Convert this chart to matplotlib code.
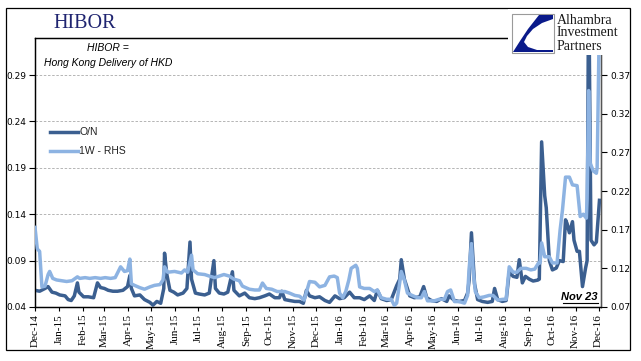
import matplotlib
matplotlib.use("Agg")
import matplotlib.pyplot as plt
import pandas as pd
from matplotlib.patches import Rectangle, Polygon
from matplotlib.lines import Line2D

# ---------------- data ----------------
on_dates = ["2014-12-01", "2014-12-07", "2014-12-14", "2014-12-18", "2014-12-23", "2014-12-28",
            "2015-01-02", "2015-01-09", "2015-01-13", "2015-01-17", "2015-01-21", "2015-01-25", "2015-01-27",
            "2015-02-02", "2015-02-08", "2015-02-15", "2015-02-20", "2015-02-24",
            "2015-03-01", "2015-03-06", "2015-03-12", "2015-03-18", "2015-03-25", "2015-03-31",
            "2015-04-03", "2015-04-05", "2015-04-09", "2015-04-16", "2015-04-22", "2015-04-29",
            "2015-05-03", "2015-05-08", "2015-05-13", "2015-05-17", "2015-05-18", "2015-05-21", "2015-05-25", "2015-05-30",
            "2015-06-04", "2015-06-11", "2015-06-16", "2015-06-20", "2015-06-22", "2015-06-27",
            "2015-07-02", "2015-07-09", "2015-07-15", "2015-07-21", "2015-07-23", "2015-07-28",
            "2015-08-03", "2015-08-08", "2015-08-14", "2015-08-16", "2015-08-23", "2015-08-30",
            "2015-09-05", "2015-09-12", "2015-09-18", "2015-09-25",
            "2015-10-01", "2015-10-08", "2015-10-14", "2015-10-17", "2015-10-21", "2015-10-27",
            "2015-11-03", "2015-11-09", "2015-11-14", "2015-11-18", "2015-11-22", "2015-11-29",
            "2015-12-05", "2015-12-12", "2015-12-18", "2015-12-25", "2015-12-31",
            "2016-01-06", "2016-01-13", "2016-01-19", "2016-01-26",
            "2016-02-01", "2016-02-08", "2016-02-14", "2016-02-18", "2016-02-23",
            "2016-03-01", "2016-03-07", "2016-03-14", "2016-03-18", "2016-03-20", "2016-03-24", "2016-03-31",
            "2016-04-06", "2016-04-13", "2016-04-18", "2016-04-22", "2016-04-28",
            "2016-05-05", "2016-05-11", "2016-05-18", "2016-05-21", "2016-05-28",
            "2016-06-03", "2016-06-10", "2016-06-14", "2016-06-16", "2016-06-19", "2016-06-23", "2016-06-27",
            "2016-07-03", "2016-07-10", "2016-07-16", "2016-07-19", "2016-07-23", "2016-07-29",
            "2016-08-03", "2016-08-07", "2016-08-12", "2016-08-17", "2016-08-20", "2016-08-24", "2016-08-28",
            "2016-09-02", "2016-09-07", "2016-09-13", "2016-09-15", "2016-09-18", "2016-09-22", "2016-09-24", "2016-09-28",
            "2016-10-02", "2016-10-07", "2016-10-11", "2016-10-16", "2016-10-19", "2016-10-21", "2016-10-24", "2016-10-28", "2016-10-30",
            "2016-11-03", "2016-11-06", "2016-11-10", "2016-11-14", "2016-11-16", "2016-11-18",
            "2016-11-21", "2016-11-25", "2016-11-28", "2016-12-02"]
on_vals = [0.058, 0.057, 0.060, 0.062, 0.056, 0.055,
           0.053, 0.052, 0.048, 0.047, 0.052, 0.066, 0.056,
           0.051, 0.051, 0.050, 0.066, 0.061,
           0.060, 0.058, 0.057, 0.057, 0.058, 0.062,
           0.074, 0.060, 0.052, 0.053, 0.048, 0.045,
           0.042, 0.046, 0.044, 0.060, 0.098, 0.075, 0.058, 0.056,
           0.053, 0.055, 0.060, 0.110, 0.070, 0.055,
           0.054, 0.053, 0.055, 0.090, 0.060, 0.055,
           0.054, 0.056, 0.078, 0.058, 0.052, 0.055,
           0.050, 0.049, 0.050, 0.052,
           0.054, 0.050, 0.050, 0.057, 0.048, 0.047,
           0.046, 0.046, 0.044, 0.058, 0.052, 0.050,
           0.051, 0.047, 0.045, 0.052, 0.049,
           0.050, 0.056, 0.050, 0.050,
           0.048, 0.052, 0.047, 0.058, 0.049,
           0.047, 0.048, 0.063, 0.070, 0.091, 0.070, 0.052,
           0.050, 0.051, 0.062, 0.050, 0.047,
           0.046, 0.049, 0.046, 0.052, 0.047,
           0.046, 0.047, 0.055, 0.069, 0.120, 0.065, 0.048,
           0.046, 0.045, 0.046, 0.060, 0.048, 0.046,
           0.047, 0.078, 0.073, 0.072, 0.091, 0.066, 0.073,
           0.070, 0.068, 0.069, 0.070, 0.218, 0.160, 0.147, 0.090,
           0.080, 0.082, 0.090, 0.089, 0.134, 0.130, 0.120, 0.132, 0.112,
           0.100, 0.100, 0.062, 0.082, 0.090, 0.400,
           0.112, 0.107, 0.110, 0.155]

w1_dates = ["2014-12-01", "2014-12-04", "2014-12-07", "2014-12-10", "2014-12-14", "2014-12-18", "2014-12-20",
            "2014-12-24", "2014-12-29", "2015-01-05", "2015-01-11", "2015-01-18", "2015-01-25", "2015-01-28",
            "2015-02-04", "2015-02-10", "2015-02-17", "2015-02-24", "2015-03-02", "2015-03-09", "2015-03-15",
            "2015-03-22", "2015-03-27", "2015-03-31", "2015-04-03", "2015-04-05", "2015-04-09", "2015-04-16",
            "2015-04-22", "2015-04-29", "2015-05-05", "2015-05-12", "2015-05-16", "2015-05-18", "2015-05-22",
            "2015-05-31", "2015-06-09", "2015-06-13", "2015-06-17", "2015-06-22", "2015-06-24", "2015-06-30",
            "2015-07-09", "2015-07-15", "2015-07-22", "2015-07-28", "2015-08-03", "2015-08-10", "2015-08-16",
            "2015-08-23", "2015-08-27", "2015-09-05", "2015-09-12", "2015-09-18", "2015-09-22", "2015-09-27",
            "2015-10-04", "2015-10-11", "2015-10-21", "2015-10-27", "2015-11-03", "2015-11-09", "2015-11-15",
            "2015-11-22", "2015-11-29", "2015-12-05", "2015-12-12", "2015-12-18", "2015-12-24", "2015-12-28",
            "2015-12-31", "2016-01-04", "2016-01-08", "2016-01-12", "2016-01-15", "2016-01-21", "2016-01-23",
            "2016-01-26", "2016-02-01", "2016-02-08", "2016-02-14", "2016-02-18", "2016-02-23", "2016-03-01",
            "2016-03-07", "2016-03-11", "2016-03-14", "2016-03-17", "2016-03-20", "2016-03-24", "2016-03-28",
            "2016-04-03", "2016-04-10", "2016-04-15", "2016-04-19", "2016-04-23", "2016-05-02", "2016-05-08",
            "2016-05-15", "2016-05-19", "2016-05-23", "2016-05-28", "2016-06-03", "2016-06-10", "2016-06-14",
            "2016-06-16", "2016-06-19", "2016-06-21", "2016-06-24", "2016-06-29", "2016-07-05", "2016-07-12",
            "2016-07-17", "2016-07-23", "2016-07-30", "2016-08-03", "2016-08-07", "2016-08-12", "2016-08-17",
            "2016-08-22", "2016-08-29", "2016-09-04", "2016-09-09", "2016-09-14", "2016-09-16", "2016-09-18",
            "2016-09-22", "2016-09-28", "2016-10-02", "2016-10-08", "2016-10-12", "2016-10-15", "2016-10-19",
            "2016-10-24", "2016-10-28", "2016-11-03", "2016-11-07", "2016-11-11", "2016-11-15", "2016-11-16",
            "2016-11-18", "2016-11-20", "2016-11-24", "2016-11-28", "2016-11-29", "2016-12-02"]
w1_vals = [0.173, 0.145, 0.142, 0.096, 0.097, 0.112, 0.116,
           0.107, 0.105, 0.104, 0.103, 0.104, 0.109, 0.107,
           0.108, 0.107, 0.108, 0.107, 0.108, 0.107, 0.108,
           0.122, 0.116, 0.117, 0.132, 0.100, 0.098, 0.095,
           0.093, 0.096, 0.098, 0.099, 0.105, 0.122, 0.115,
           0.116, 0.114, 0.118, 0.115, 0.137, 0.118, 0.113,
           0.112, 0.110, 0.108, 0.110, 0.112, 0.110, 0.106,
           0.104, 0.097, 0.093, 0.092, 0.092, 0.101, 0.094,
           0.093, 0.090, 0.090, 0.088, 0.085, 0.084, 0.079,
           0.103, 0.102, 0.096, 0.098, 0.109, 0.110, 0.108,
           0.088, 0.082, 0.090, 0.105, 0.120, 0.124, 0.120,
           0.096, 0.094, 0.094, 0.090, 0.092, 0.082, 0.080,
           0.080, 0.072, 0.075, 0.095, 0.116, 0.105, 0.088,
           0.085, 0.082, 0.082, 0.090, 0.078, 0.078, 0.080,
           0.080, 0.090, 0.092, 0.077, 0.077, 0.075, 0.085,
           0.120, 0.152, 0.120, 0.090, 0.082, 0.083, 0.085,
           0.085, 0.079, 0.080, 0.080, 0.122, 0.115, 0.115,
           0.120, 0.120, 0.118, 0.119, 0.127, 0.127, 0.153,
           0.135, 0.135, 0.127, 0.127, 0.170, 0.195, 0.238,
           0.238, 0.228, 0.227, 0.187, 0.190, 0.185, 0.210,
           0.350, 0.256, 0.246, 0.243, 0.250, 0.450]

tick_labels = ["Dec-14", "Jan-15", "Feb-15", "Mar-15", "Apr-15", "May-15", "Jun-15", "Jul-15",
               "Aug-15", "Sep-15", "Oct-15", "Nov-15", "Dec-15", "Jan-16", "Feb-16", "Mar-16",
               "Apr-16", "May-16", "Jun-16", "Jul-16", "Aug-16", "Sep-16", "Oct-16", "Nov-16", "Dec-16"]
left_ticks = [0.04, 0.09, 0.14, 0.19, 0.24, 0.29]
right_ticks = [0.07, 0.12, 0.17, 0.22, 0.27, 0.32, 0.37]
series_names = ["O/N", "1W - RHS"]

# ---------------- styling ----------------
W, H = 641, 361
DARK = "#3B5F90"
LIGHT = "#8DB3E2"
NAVY = "#1F2470"

fig = plt.figure(figsize=(W / 100, H / 100), dpi=100)
fig.patch.set_facecolor("white")


def fx(px):
    return px / W


def fy(py):
    return 1 - py / H


ax = fig.add_axes([fx(35), fy(307), fx(601) - fx(35), fy(38) - fy(307)])
ax2 = ax.twinx()

on_d = pd.to_datetime(on_dates)
w1_d = pd.to_datetime(w1_dates)

ax.plot(on_d, on_vals, color=DARK, lw=2.5, solid_joinstyle="round", zorder=3)
ax2.plot(w1_d, w1_vals, color=LIGHT, lw=2.5, solid_joinstyle="round", zorder=3)

ax.set_ylim(0.04, 0.330)
ax2.set_ylim(0.07, 0.418)
ax.set_xlim(pd.Timestamp("2014-12-01"), pd.Timestamp("2016-12-04"))

tick_dates = pd.to_datetime(["01-" + t for t in tick_labels], format="%d-%b-%y")
ax.set_xticks(tick_dates)
ax.set_xticklabels(tick_labels, rotation=90, fontfamily="Liberation Serif", fontsize=8)

ax.set_yticks(left_ticks)
ax.set_yticklabels([f"{v:.2f}" for v in left_ticks], fontfamily="DejaVu Sans", fontsize=6.5)
ax2.set_yticks(right_ticks)
ax2.set_yticklabels([f"{v:.2f}" for v in right_ticks], fontfamily="DejaVu Sans", fontsize=6.5)

ax.tick_params(axis="y", direction="out", length=4, width=0.8, pad=2, colors="black")
ax.tick_params(axis="x", direction="out", length=3, width=0.8, pad=2)
ax2.tick_params(axis="y", direction="out", length=4, width=0.8, pad=3)

for a in (ax, ax2):
    for s in a.spines.values():
        s.set_color("black")
        s.set_linewidth(0.9)
ax2.spines["right"].set_color("#555555")

ax.yaxis.grid(True, linestyle=(0, (3, 2)), color="#AAAAAA", linewidth=0.6)
ax.set_axisbelow(True)

# legend (drawn manually to match position)
for (py, name, col) in [(132, series_names[0], DARK), (151, series_names[1], LIGHT)]:
    fig.add_artist(Line2D([fx(50), fx(78)], [fy(py), fy(py)], color=col, lw=2.5,
                          transform=fig.transFigure))
    fig.text(fx(79), fy(py), name, fontsize=7.5, fontfamily="Liberation Sans",
             va="center", ha="left", color="#222222")

# annotations
fig.text(fx(108), fy(48), "HIBOR =", fontsize=7.5, style="italic", fontfamily="Liberation Sans",
         ha="center", va="center")
fig.text(fx(108), fy(63), "Hong Kong Delivery of HKD", fontsize=7.5, style="italic",
         fontfamily="Liberation Sans", ha="center", va="center")
fig.text(fx(53), fy(23), "HIBOR", fontsize=14.5, fontfamily="Liberation Serif", color=NAVY,
         ha="left", va="center")

fig.text(fx(598), fy(300), "Nov 23", fontsize=8, style="italic", weight="bold",
         fontfamily="Liberation Sans", ha="right", va="baseline")
fig.add_artist(Line2D([fx(563), fx(598)], [fy(302.5), fy(302.5)], color="black", lw=0.8,
                      transform=fig.transFigure))

# outer frame
fig.add_artist(Rectangle((fx(6), fy(350)), fx(630) - fx(6), fy(8) - fy(350),
                         transform=fig.transFigure, fill=False, ec="black", lw=0.9))

# logo
lax = fig.add_axes([fx(508), fy(55), fx(629) - fx(508), fy(9) - fy(55)], zorder=10)
lax.set_xlim(508, 629)
lax.set_ylim(55, 9)
lax.set_facecolor("white")
lax.axis("off")
lax.add_patch(Rectangle((508, 9), 121, 46, fc="white", ec="none", zorder=0))
lax.add_patch(Rectangle((512, 14), 42, 39, fc="white", ec="#9A9A9A", lw=0.8, zorder=1))
lax.add_patch(Polygon([(513, 52), (520, 41), (528, 29), (539, 15), (553, 15), (553, 19),
                       (542, 23), (533, 29), (527, 36), (524, 42), (528, 47), (537, 50),
                       (553, 50), (553, 52)], closed=True, fc="#0A1A8A", ec="none", zorder=2))
for i, word in enumerate(["Alhambra", "Investment", "Partners"]):
    lax.text(557, 20 + i * 13, word, fontsize=10, fontfamily="Liberation Serif",
             color="#1A1A1A", ha="left", va="center")

fig.savefig("out.png", dpi=100, facecolor="white")
